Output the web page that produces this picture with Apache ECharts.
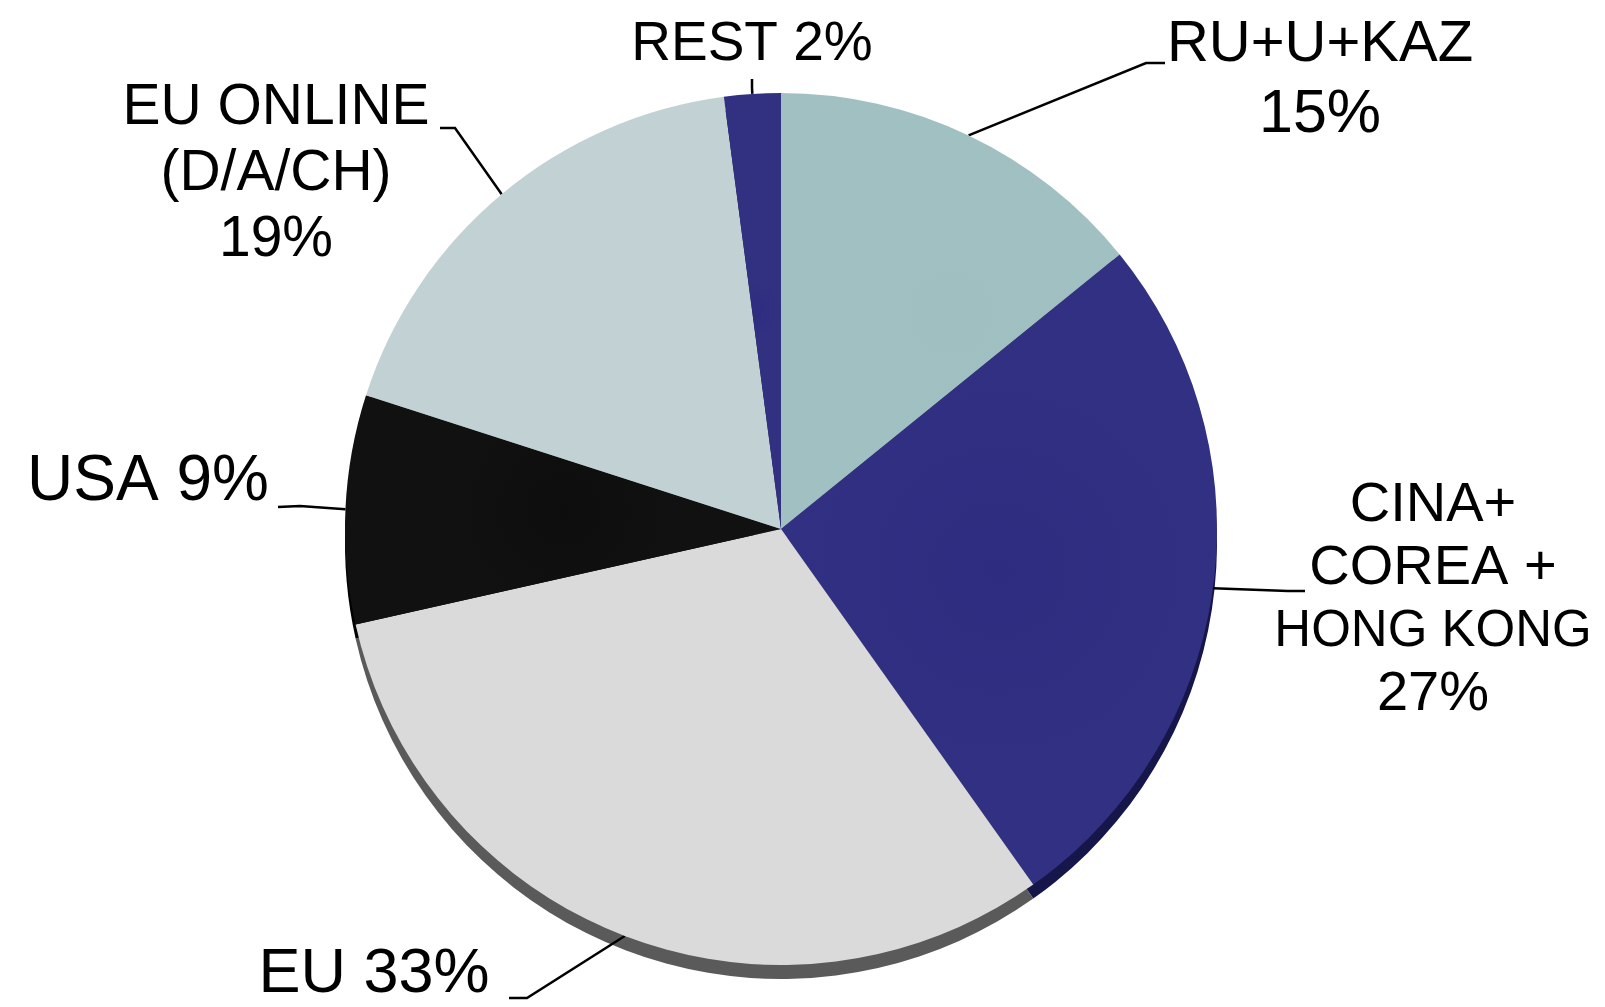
<!DOCTYPE html>
<html>
<head>
<meta charset="utf-8">
<script src="https://cdn.jsdelivr.net/npm/echarts@6/dist/echarts.min.js"></script>
<style>
html,body{margin:0;padding:0;background:#fff;}
#chart{width:1605px;height:1007px;}
</style>
</head>
<body>
<div id="chart"></div>
<script>
// ---- data ----
const categories = ['RU+U+KAZ', 'CINA+ COREA + HONG KONG', 'EU', 'USA', 'EU ONLINE (D/A/CH)', 'REST'];
const values = [14.2, 26.1, 31.4, 8.5, 18.0, 2.1];
const labelTexts = [
  '{a|RU+U+KAZ}\n{b|15%}',
  'CINA+\nCOREA +\n{n|HONG KONG}\n27%',
  'EU 33%',
  'USA 9%',
  'EU ONLINE\n(D/A/CH)\n19%',
  'REST 2%'
];

// ---- styles ----
const FONT = 'Liberation Sans, Arial, sans-serif';
const faceColors = ['#a0bfc1', '#2d2c80', '#dadada', '#0d0d0d', '#c1d1d4', '#2d2c7f'];
const rimColors  = ['#6d8586', '#16164a', '#5a5a5a', '#000000', '#7f8c8e', '#16164a'];
const labelLayouts = [
  {x: 1320, y: 80,  lh: 71, fs: 58, elbow: [1146, 63],  end: [1165, 63]},
  {x: 1433, y: 600, lh: 63, fs: 56, elbow: [1288, 591], end: [1305, 591]},
  {x: 374,  y: 975, lh: 64, fs: 63, elbow: [527, 998],  end: [509, 998]},
  {x: 148,  y: 482, lh: 64, fs: 64, elbow: [300, 506],  end: [278, 507]},
  {x: 276,  y: 174, lh: 66, fs: 57, elbow: [455, 128],  end: [440, 128]},
  {x: 752,  y: 45,  lh: 60, fs: 55, elbow: [752, 88],   end: [752, 79]}
];

function faceFill(c, amt) {
  return {
    type: 'radial', x: 0.5, y: 0.5, r: 0.5,
    colorStops: [
      {offset: 0, color: c},
      {offset: 1, color: echarts.color.lift(c, amt)}
    ]
  };
}

const faceData = categories.map((name, i) => {
  const L = labelLayouts[i];
  return {
    name: name,
    value: values[i],
    itemStyle: {color: faceFill(faceColors[i], 0.02)},
    label: {
      formatter: labelTexts[i],
      fontSize: L.fs,
      lineHeight: L.lh,
      rich: {
        a: {fontSize: 58, lineHeight: L.lh, fontFamily: FONT, color: '#000'},
        b: {fontSize: 61, lineHeight: L.lh, fontFamily: FONT, color: '#000'},
        n: {fontSize: 51, lineHeight: L.lh, fontFamily: FONT, color: '#000'}
      }
    }
  };
});
const rimData = categories.map((name, i) => ({
  name: name,
  value: values[i],
  itemStyle: {color: rimColors[i]}
}));

const chart = echarts.init(document.getElementById('chart'), null, {renderer: 'canvas'});
chart.setOption({
  backgroundColor: '#ffffff',
  animation: false,
  series: [
    {
      type: 'pie',
      silent: true,
      center: [781, 543],
      radius: 436,
      startAngle: 90,
      clockwise: true,
      label: {show: false},
      labelLine: {show: false},
      data: rimData,
      z: 1
    },
    {
      type: 'pie',
      center: [781, 529],
      radius: 436,
      startAngle: 90,
      clockwise: true,
      avoidLabelOverlap: false,
      itemStyle: {borderWidth: 0},
      label: {
        show: true,
        position: 'outside',
        color: '#000',
        fontFamily: FONT,
        fontSize: 56,
        align: 'center'
      },
      labelLine: {
        show: true,
        length: 30,
        length2: 20,
        lineStyle: {color: '#000', width: 2.5}
      },
      labelLayout: function (params) {
        const L = labelLayouts[params.dataIndex];
        const p0 = params.labelLinePoints ? params.labelLinePoints[0] : L.elbow;
        return {
          x: L.x,
          y: L.y,
          align: 'center',
          verticalAlign: 'middle',
          labelLinePoints: [p0, L.elbow, L.end]
        };
      },
      emphasis: {disabled: true},
      data: faceData,
      z: 2
    }
  ]
});
</script>
</body>
</html>
